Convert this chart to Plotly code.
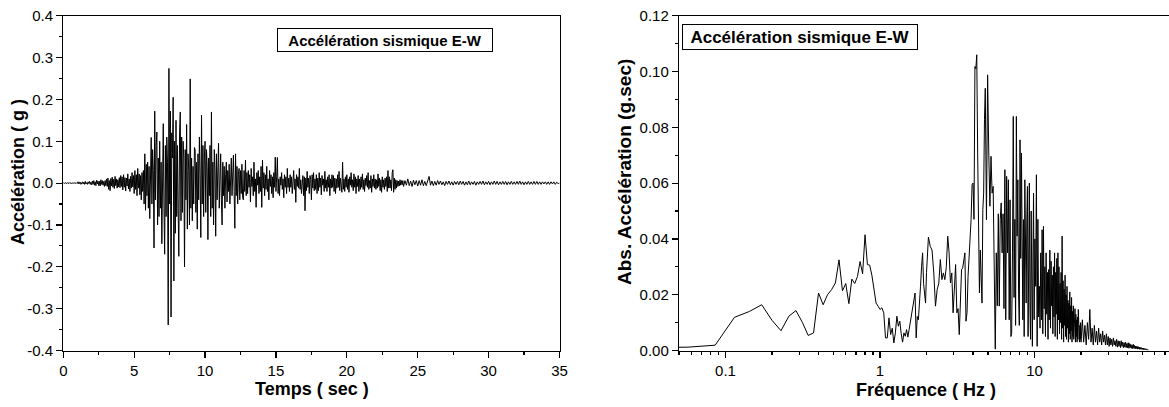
import numpy as np
import plotly.graph_objects as go

# ---------------- DATA ----------------
# Time history of E-W acceleration (g). 0-24 s sampled every 0.05 s, 24-35 s every 0.1 s
DT_A = 0.05
DT_B = 0.1
T_B0 = 24.0
accel_a = [
    0.000, 0.001, -0.001, 0.001, 0.000, -0.001, 0.001, 0.000, -0.001, 0.001, 0.000, 0.001, -0.001, 0.000, 0.001, -0.001, 0.001, 0.000, -0.001, 0.001,
    0.002, -0.002, 0.003, -0.001, 0.002, -0.003, 0.001, 0.003, -0.002, 0.002, -0.003, 0.004, -0.002, 0.001, -0.003, 0.003, -0.001, 0.004, -0.003, 0.002,
    -0.004, 0.005, -0.003, 0.006, -0.005, 0.003, -0.006, 0.007, -0.002, 0.005, -0.006, 0.004, -0.007, 0.008, -0.003, 0.006, -0.005, 0.004, -0.008, 0.006,
    -0.006, 0.010, -0.008, 0.012, -0.015, 0.006, -0.018, 0.011, -0.007, 0.014, -0.010, 0.009, -0.013, 0.016, -0.006, 0.010, -0.012, 0.008, -0.009, 0.013,
    -0.011, 0.018, -0.008, 0.015, -0.016, 0.020, -0.010, 0.013, -0.019, 0.012, -0.007, 0.022, -0.014, 0.010, -0.020, 0.016, -0.012, 0.025, -0.009, 0.018,
    -0.025, 0.030, -0.015, 0.020, -0.030, 0.035, -0.012, 0.022, -0.028, 0.018, -0.040, 0.025, -0.020, 0.030, -0.050, 0.070, -0.065, 0.045, -0.030, 0.050,
    -0.060, 0.040, -0.085, 0.060, 0.109, -0.050, 0.080, 0.030, -0.155, 0.172, -0.040, 0.090, 0.122, -0.100, 0.060, -0.080, 0.100, -0.060, 0.050, -0.145,
    0.030, 0.142, -0.060, -0.170, 0.090, -0.080, 0.110, 0.050, -0.339, 0.274, -0.050, 0.172, -0.320, 0.120, 0.060, 0.205, -0.234, 0.100, -0.120, 0.150,
    -0.080, 0.090, -0.060, -0.175, 0.120, 0.170, -0.090, 0.110, -0.070, 0.100, 0.060, -0.200, 0.080, -0.040, 0.140, -0.110, 0.070, 0.030, -0.100, 0.249,
    -0.060, 0.060, -0.090, 0.040, -0.050, 0.085, 0.080, -0.070, 0.050, -0.110, 0.070, -0.040, 0.110, 0.020, -0.130, 0.162, -0.050, 0.090, -0.080, 0.060,
    0.100, -0.070, 0.080, 0.040, -0.135, 0.060, -0.030, 0.090, -0.080, 0.170, -0.060, 0.050, -0.100, 0.080, 0.030, -0.127, 0.070, -0.040, 0.060, 0.095,
    -0.060, 0.030, 0.070, -0.040, -0.100, 0.050, -0.030, 0.040, -0.060, 0.020, 0.050, -0.045, 0.030, -0.020, 0.045, -0.050, 0.010, 0.060, -0.030, 0.040,
    0.067, -0.020, -0.108, 0.070, -0.030, 0.040, -0.050, 0.020, 0.035, -0.040, 0.030, -0.025, 0.045, -0.035, -0.040, 0.030, -0.020, 0.055, -0.030, 0.025,
    -0.025, 0.030, -0.010, 0.020, -0.045, 0.035, -0.008, 0.015, -0.030, 0.050, -0.020, 0.010, -0.058, 0.025, -0.005, 0.030, -0.025, 0.015, -0.020, 0.040,
    -0.058, 0.055, -0.012, 0.025, -0.030, 0.020, -0.015, 0.040, -0.020, 0.010, -0.040, 0.030, -0.008, 0.020, -0.025, 0.015, -0.035, 0.025, -0.010, 0.062,
    -0.020, 0.015, 0.061, -0.025, 0.010, -0.030, 0.015, -0.005, 0.025, -0.015, 0.010, -0.035, 0.020, -0.010, 0.015, -0.025, 0.035, -0.010, 0.012, -0.020,
    0.020, -0.010, 0.015, -0.025, 0.008, 0.030, -0.015, 0.010, -0.046, 0.020, -0.008, 0.015, -0.012, 0.035, -0.015, 0.008, -0.025, 0.012, 0.018, -0.030,
    0.015, -0.066, 0.012, -0.018, 0.028, -0.010, 0.012, -0.025, 0.018, 0.008, -0.040, 0.020, -0.012, 0.025, -0.018, 0.010, -0.015, 0.020, -0.025, 0.012,
    -0.018, 0.025, -0.010, 0.012, -0.028, 0.018, -0.005, 0.010, -0.020, 0.028, -0.012, 0.008, -0.020, 0.015, -0.010, 0.020, -0.030, 0.010, -0.012, 0.020,
    -0.010, 0.018, -0.020, 0.012, -0.025, 0.010, -0.012, 0.020, -0.010, 0.028, -0.018, 0.012, -0.010, -0.022, 0.050, -0.015, 0.010, -0.020, 0.015, -0.010,
    0.020, -0.015, 0.010, -0.022, 0.015, -0.005, 0.025, -0.010, 0.008, -0.018, 0.022, -0.010, 0.015, -0.025, 0.010, -0.008, 0.018, -0.020, 0.010, -0.015,
    0.015, -0.010, 0.022, -0.015, 0.008, -0.020, 0.012, -0.006, 0.018, -0.010, 0.025, -0.015, 0.006, -0.012, 0.018, -0.022, 0.010, -0.008, 0.020, -0.012,
    0.010, -0.015, 0.008, -0.012, 0.022, -0.008, 0.012, -0.018, 0.008, -0.022, 0.015, -0.010, 0.008, -0.015, 0.012, -0.008, 0.015, -0.020, 0.030, -0.012,
    0.015, -0.012, 0.008, -0.018, 0.025, 0.032, -0.022, 0.012, -0.015, 0.008, -0.012, 0.006, -0.008, 0.005, -0.007, 0.008, -0.005, 0.006, -0.004, 0.006,
]
accel_b = [
    -0.008, 0.006, -0.005, 0.010, -0.006, 0.005, -0.008, 0.007, -0.004, 0.006,
    -0.007, 0.006, -0.005, 0.008, -0.006, 0.004, -0.006, 0.007, 0.016, -0.005,
    0.005, -0.006, 0.004, -0.005, 0.006, -0.003, 0.005, -0.004, 0.003, -0.006,
    0.004, -0.003, 0.005, -0.004, 0.003, -0.005, 0.004, -0.003, 0.004, -0.004,
    0.005, -0.003, 0.004, -0.005, 0.003, -0.004, 0.005, -0.004, 0.003, -0.003,
    0.004, -0.005, 0.003, -0.003, 0.004, -0.003, 0.005, -0.004, 0.003, -0.003,
    0.004, -0.004, 0.003, -0.003, 0.005, -0.003, 0.004, -0.004, 0.003, -0.003,
    0.004, -0.003, 0.004, -0.004, 0.003, -0.003, 0.004, -0.003, 0.003, -0.003,
    0.004, -0.003, 0.005, -0.003, 0.003, -0.004, 0.003, -0.003, 0.004, -0.003,
    0.003, -0.003, 0.004, -0.003, 0.004, -0.003, 0.003, -0.003, 0.003, -0.002,
    0.003, -0.003, 0.003, -0.003, 0.003, -0.002, 0.003, -0.003, 0.002, -0.001,
    0.000,
]

# Fourier amplitude spectrum (g.sec), frequency bins k/35 Hz
DF = 1.0 / 35.0
spec_a = [  # k = 1..70
    0.0010, 0.0012, 0.0019, 0.0119, 0.0140, 0.0164, 0.0108, 0.0071, 0.0123, 0.0143,
    0.0101, 0.0054, 0.0063, 0.0206, 0.0164, 0.0200, 0.0218, 0.0242, 0.0325, 0.0214,
    0.0240, 0.0168, 0.0256, 0.0240, 0.0265, 0.0319, 0.0275, 0.0415, 0.0308, 0.0306,
    0.0270, 0.0220, 0.0170, 0.0159, 0.0147, 0.0153, 0.0135, 0.0045, 0.0045, 0.0117,
    0.0057, 0.0080, 0.0027, 0.0063, 0.0123, 0.0087, 0.0105, 0.0060, 0.0030, 0.0063,
    0.0051, 0.0075, 0.0048, 0.0075, 0.0105, 0.0129, 0.0156, 0.0180, 0.0206, 0.0045,
    0.0122, 0.0110, 0.0160, 0.0230, 0.0300, 0.0350, 0.0240, 0.0206, 0.0170, 0.0280,
]
spec_b = [  # k = 72..168 step 2
    0.0406, 0.0373, 0.0360, 0.0278, 0.0159, 0.0218, 0.0240, 0.0326, 0.0254, 0.0278,
    0.0254, 0.0300, 0.0410, 0.0350, 0.0242, 0.0278, 0.0135, 0.0220, 0.0308, 0.0135,
    0.0150, 0.0057, 0.0180, 0.0290, 0.0296, 0.0320, 0.0350, 0.0105, 0.0135, 0.0266,
    0.0330, 0.0410, 0.0470, 0.0594, 0.0600, 0.0470, 0.1018, 0.1010, 0.1060, 0.0708,
    0.0457, 0.0206, 0.0360, 0.0250, 0.0170, 0.0505, 0.0564, 0.0827, 0.0940,
]
spec_c = [  # k = 171.. step 3
    0.0469, 0.0988, 0.0708, 0.0517, 0.0696, 0.0564, 0.0588, 0.0230, 0.0005, 0.0350,
    0.0160, 0.0490, 0.0159, 0.0469, 0.0529, 0.0350, 0.0490, 0.0150, 0.0648, 0.0110,
    0.0624, 0.0350, 0.0612, 0.0110, 0.0540, 0.0050, 0.0060, 0.0350, 0.0839, 0.0190,
    0.0470, 0.0090, 0.0839, 0.0410, 0.0612, 0.0200, 0.0090, 0.0755, 0.0330, 0.0708,
    0.0250, 0.0110, 0.0469, 0.0050, 0.0612, 0.0300, 0.0170, 0.0470, 0.0588, 0.0050,
    0.0300, 0.0600, 0.0150, 0.0040, 0.0500, 0.0200, 0.0015, 0.0350, 0.0564, 0.0110,
]
spec_d = [  # k = 352.. step 4
    0.0400, 0.0230, 0.0630, 0.0015, 0.0470, 0.0120, 0.0230, 0.0080, 0.0350, 0.0110,
    0.0433, 0.0060, 0.0445, 0.0150, 0.0300, 0.0050, 0.0350, 0.0130, 0.0280, 0.0040,
    0.0290, 0.0110, 0.0360, 0.0080, 0.0320, 0.0160, 0.0270, 0.0060, 0.0300, 0.0120,
    0.0350, 0.0050, 0.0280, 0.0130, 0.0330, 0.0040, 0.0350, 0.0110, 0.0300, 0.0060,
    0.0240, 0.0100, 0.0280, 0.0040, 0.0410, 0.0080, 0.0250, 0.0030, 0.0220, 0.0090,
    0.0270, 0.0050, 0.0200, 0.0040, 0.0230, 0.0080, 0.0180, 0.0030, 0.0170, 0.0060,
    0.0210, 0.0040, 0.0160, 0.0070, 0.0190, 0.0030, 0.0140, 0.0050, 0.0160, 0.0040,
    0.0120, 0.0060, 0.0150, 0.0030, 0.0130, 0.0050, 0.0110, 0.0030, 0.0120, 0.0040,
    0.0147, 0.0060, 0.0100, 0.0030, 0.0090, 0.0040, 0.0100, 0.0030,
]
spec_e = [  # k = 714.. step 14
    0.0110, 0.0030, 0.0090, 0.0020, 0.0100, 0.0040, 0.0147, 0.0030, 0.0080, 0.0020,
    0.0090, 0.0030, 0.0070, 0.0020, 0.0080, 0.0030, 0.0060, 0.0020, 0.0070, 0.0030,
    0.0055, 0.0020, 0.0060, 0.0020, 0.0050, 0.0015, 0.0045, 0.0020, 0.0040, 0.0015,
    0.0045, 0.0020, 0.0035, 0.0015, 0.0040, 0.0012, 0.0035, 0.0015, 0.0033, 0.0010,
    0.0035, 0.0015, 0.0030, 0.0010, 0.0028, 0.0012, 0.0030, 0.0010, 0.0025, 0.0010,
    0.0028, 0.0008, 0.0025, 0.0010, 0.0022, 0.0008, 0.0020, 0.0007, 0.0022, 0.0008,
    0.0018, 0.0006, 0.0016, 0.0007, 0.0015, 0.0005, 0.0014, 0.0006, 0.0012, 0.0004,
    0.0011, 0.0005, 0.0010, 0.0004, 0.0009, 0.0003, 0.0008, 0.0003, 0.0007, 0.0003,
    0.0006, 0.0002, 0.0005, 0.0002, 0.0004, 0.0001, 0.0002,
]

time_ticks = [0, 5, 10, 15, 20, 25, 30, 35]
time_ticktext = ["0", "5", "10", "15", "20", "25", "30", "35"]
acc_ticks = [-0.4, -0.3, -0.2, -0.1, 0.0, 0.1, 0.2, 0.3, 0.4]
acc_ticktext = ["-0.4", "-0.3", "-0.2", "-0.1", "0.0", "0.1", "0.2", "0.3", "0.4"]
freq_ticks = [0.1, 1, 10]
freq_ticktext = ["0.1", "1", "10"]
spec_ticks = [0.0, 0.02, 0.04, 0.06, 0.08, 0.10, 0.12]
spec_ticktext = ["0.00", "0.02", "0.04", "0.06", "0.08", "0.10", "0.12"]

title_box = "Accélération sismique E-W"
xtitle_left = "Temps ( sec )"
ytitle_left = "Accélération ( g )"
xtitle_right = "Fréquence ( Hz )"
ytitle_right = "Abs. Accélération (g.sec)"

# ---------------- BUILD ----------------
t_a = np.arange(len(accel_a)) * DT_A
t_b = T_B0 + np.arange(len(accel_b)) * DT_B
time = np.concatenate([t_a, t_b])
accel = np.concatenate([accel_a, accel_b])


def bins(k0, step, n):
    return (k0 + step * np.arange(n)) * DF


freq = np.concatenate([
    bins(1, 1, len(spec_a)),
    bins(72, 2, len(spec_b)),
    bins(171, 3, len(spec_c)),
    bins(352, 4, len(spec_d)),
    bins(714, 14, len(spec_e)),
])
spec = np.concatenate([spec_a, spec_b, spec_c, spec_d, spec_e])

W, H = 1169, 407
FONT = "Liberation Sans, Arial, sans-serif"


def px_x(p):
    return p / W


def px_y(p):
    return 1 - p / H


fig = go.Figure()
fig.add_trace(go.Scatter(x=time, y=accel, mode="lines",
                         line=dict(color="black", width=1), xaxis="x", yaxis="y",
                         hoverinfo="skip"))
fig.add_trace(go.Scatter(x=freq, y=spec, mode="lines",
                         line=dict(color="black", width=1), xaxis="x2", yaxis="y2",
                         hoverinfo="skip"))

ydom = [px_y(350.5), px_y(15.7)]
axis_common = dict(showline=True, linecolor="black", linewidth=1.2, showgrid=False,
                   zeroline=False, ticks="outside", ticklen=6, tickwidth=1.2,
                   tickcolor="black", automargin=False,
                   tickfont=dict(family=FONT, size=15, color="black"))

minor_time = [2.5 + 5 * i for i in range(7)]
minor_acc = [round(-0.35 + 0.1 * i, 2) for i in range(8)]
minor_spec = [round(0.01 + 0.02 * i, 2) for i in range(6)]
minor_freq = [m * d for d in (0.01, 0.1, 1, 10) for m in range(2, 10)]

fig.update_layout(
    width=W, height=H,
    margin=dict(l=0, r=0, t=0, b=0, pad=0, autoexpand=False),
    paper_bgcolor="white", plot_bgcolor="white",
    showlegend=False,
    xaxis=dict(domain=[px_x(63.3), px_x(559.5)], range=[0, 35], anchor="y",
               mirror=True, tickmode="array", tickvals=time_ticks, ticktext=time_ticktext,
               minor=dict(tickmode="array", tickvals=minor_time, ticks="outside",
                          ticklen=3, tickwidth=1.2, tickcolor="black"),
               **axis_common),
    yaxis=dict(domain=ydom, range=[-0.4, 0.4], anchor="x",
               mirror=True, tickmode="array", tickvals=acc_ticks, ticktext=acc_ticktext,
               minor=dict(tickmode="array", tickvals=minor_acc, ticks="outside",
                          ticklen=3, tickwidth=1.2, tickcolor="black"),
               **axis_common),
    xaxis2=dict(domain=[px_x(679), 1.0], type="log",
                range=[np.log10(0.05), np.log10(74.2)], anchor="y2",
                mirror=True, tickmode="array", tickvals=freq_ticks, ticktext=freq_ticktext,
                minor=dict(tickmode="array", tickvals=minor_freq, ticks="outside",
                           ticklen=3, tickwidth=1.2, tickcolor="black"),
                **axis_common),
    yaxis2=dict(domain=ydom, range=[0, 0.12], anchor="x2",
                tickmode="array", tickvals=spec_ticks, ticktext=spec_ticktext,
                minor=dict(tickmode="array", tickvals=minor_spec, ticks="outside",
                           ticklen=3, tickwidth=1.2, tickcolor="black"),
                **axis_common),
)

bold = dict(family=FONT, color="black")
annots = [
    dict(text="<b>%s</b>" % title_box, x=px_x(384.5), y=px_y(40), width=212, height=20,
         font=dict(size=15, **bold), bordercolor="black", borderwidth=1, borderpad=1,
         bgcolor="white"),
    dict(text="<b>%s</b>" % title_box, x=px_x(800), y=px_y(37), width=232, height=22,
         font=dict(size=17, **bold), bordercolor="black", borderwidth=1, borderpad=1,
         bgcolor="white"),
    dict(text="<b>%s</b>" % xtitle_left, x=px_x(311.5), y=px_y(388.5), font=dict(size=18, **bold)),
    dict(text="<b>%s</b>" % ytitle_left, x=px_x(18), y=px_y(172), textangle=-90,
         font=dict(size=18, **bold)),
    dict(text="<b>%s</b>" % xtitle_right, x=px_x(926), y=px_y(390), font=dict(size=18, **bold)),
    dict(text="<b>%s</b>" % ytitle_right, x=px_x(625), y=px_y(172), textangle=-90,
         font=dict(size=19, **bold)),
]
for a in annots:
    a.update(xref="paper", yref="paper", xanchor="center", yanchor="middle", showarrow=False)
fig.update_layout(annotations=annots)

fig.write_html("out.html", config={"displayModeBar": False, "staticPlot": True},
               post_script="document.body.style.margin='0';document.body.style.overflow='hidden';")
